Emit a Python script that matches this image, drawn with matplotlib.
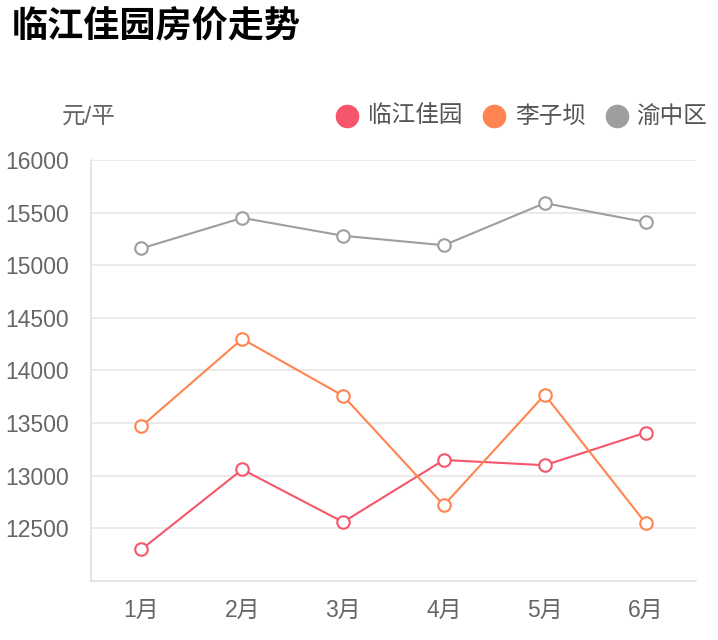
import matplotlib
matplotlib.use('Agg')
import matplotlib.pyplot as plt
from matplotlib.lines import Line2D

plt.rcParams['font.family'] = ['Liberation Sans', 'Noto Sans CJK SC', 'DejaVu Sans']

# 数据
months = ['1月', '2月', '3月', '4月', '5月', '6月']
linjiang = [12300, 13060, 12560, 13150, 13100, 13410]
liziba = [13470, 14300, 13760, 12720, 13770, 12550]
yuzhong = [15160, 15450, 15280, 15190, 15590, 15410]
series_names = ['临江佳园', '李子坝', '渝中区']
colors = ['#f5566c', '#ff8450', '#9e9e9e']
y_ticks = [12500, 13000, 13500, 14000, 14500, 15000, 15500, 16000]

fig = plt.figure(figsize=(7.18, 6.4), dpi=100)
ax = fig.add_axes([0.1267, 0.0922, 0.8427, 0.6578])

x = list(range(len(months)))
for vals, c in zip([linjiang, liziba, yuzhong], colors):
    ax.plot(x, vals, color=c, linewidth=1.5, marker='o', markersize=9,
            markerfacecolor='white', markeredgecolor=c, markeredgewidth=1.5,
            zorder=3)

ax.set_xlim(-0.5, len(months) - 0.5)
ax.set_ylim(12000, 16000)
ax.set_yticks(y_ticks)
ax.set_yticklabels([str(v) for v in y_ticks])
ax.set_xticks(x)
ax.set_xticklabels(months)
ax.tick_params(axis='both', length=0, labelsize=16.5, labelcolor='#666666')
ax.tick_params(axis='y', pad=16)
ax.tick_params(axis='x', pad=13)
ax.grid(axis='y', color='#e6e6e6', linewidth=1.2)
ax.set_axisbelow(True)
for s in ['top', 'right']:
    ax.spines[s].set_visible(False)
for s in ['left', 'bottom']:
    ax.spines[s].set_color('#e0e0e0')
    ax.spines[s].set_linewidth(1.2)

# 标题和单位
fig.text(12 / 718, 1 - 27 / 640, '临江佳园房价走势', fontsize=26, fontweight='bold',
         color='#000000', va='center', ha='left', family=['Noto Sans CJK SC'])
fig.text(62 / 718, 1 - 117 / 640, '元/平', fontsize=17, color='#666666',
         va='center', ha='left')

# 图例
leg_items = [(347, 368), (494, 515), (617, 636)]
for (cx, tx), name, c in zip(leg_items, series_names, colors):
    fig.add_artist(Line2D([cx / 718], [1 - 116 / 640], marker='o', markersize=16,
                          color=c, linestyle='none', transform=fig.transFigure))
    fig.text(tx / 718, 1 - 116 / 640, name, fontsize=17, color='#555555',
             va='center', ha='left', family=['Noto Sans CJK SC'])

fig.savefig('out.png', dpi=100)
